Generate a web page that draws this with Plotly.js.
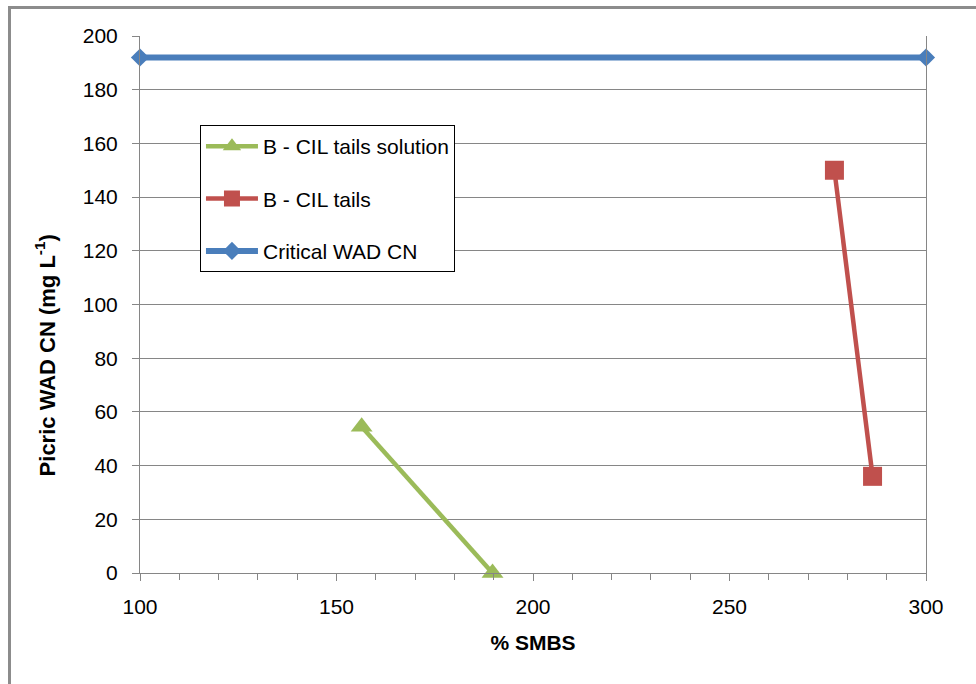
<!DOCTYPE html>
<html>
<head>
<meta charset="utf-8">
<script src="https://cdn.plot.ly/plotly-3.0.1.min.js"></script>
<style>
  html, body { margin: 0; padding: 0; background: #fff; }
  #wrap { position: relative; width: 976px; height: 684px; }
  #chart { width: 976px; height: 684px; }
  #frame { position: absolute; left: 8px; top: 6px; width: 980px; height: 700px;
           border-left: 3px solid #8c8c8c; border-top: 3px solid #8c8c8c; pointer-events: none; }
</style>
</head>
<body>
<div id="wrap">
  <div id="chart"></div>
  <div id="frame"></div>
</div>
<script>
// Data
const seriesNames = ["B - CIL tails solution", "B - CIL tails", "Critical WAD CN"];
const solutionX = [156.4, 189.7];
const solutionY = [54.5, 0];
const tailsX = [276.7, 286.4];
const tailsY = [150, 36];
const criticalX = [100, 300];
const criticalY = [192, 192];
const xTickVals = [100, 150, 200, 250, 300];
const xTickText = ["100", "150", "200", "250", "300"];

const FONT = "Liberation Sans, Arial, sans-serif";

const traces = [
  {
    x: solutionX, y: solutionY, name: seriesNames[0], type: "scatter", mode: "lines+markers",
    line: { color: "#9bbb59", width: 4.5 },
    marker: { symbol: "triangle-up", size: 19, color: "#9bbb59" },
    cliponaxis: false, legendgroup: "a"
  },
  {
    x: tailsX, y: tailsY, name: seriesNames[1], type: "scatter", mode: "lines+markers",
    line: { color: "#c0504d", width: 4.5 },
    marker: { symbol: "square", size: 19, color: "#c0504d" },
    cliponaxis: false, legendgroup: "b"
  },
  {
    x: criticalX, y: criticalY, name: seriesNames[2], type: "scatter", mode: "lines+markers",
    line: { color: "#4a7ebb", width: 6 },
    marker: { symbol: "diamond", size: 14, color: "#4a7ebb" },
    cliponaxis: false, legendgroup: "c"
  }
];

const layout = {
  width: 976, height: 684,
  margin: { l: 140, r: 50, t: 36, b: 111 },
  paper_bgcolor: "#ffffff", plot_bgcolor: "#ffffff",
  font: { family: FONT, size: 21, color: "#000" },
  showlegend: true,
  legend: {
    x: 0.0763, y: 0.834, xanchor: "left", yanchor: "top",
    bgcolor: "#ffffff", bordercolor: "#000000", borderwidth: 1,
    font: { family: FONT, size: 21, color: "#000" },
    tracegroupgap: 22, traceorder: "grouped", itemwidth: 52
  },
  xaxis: {
    range: [100, 300], tickmode: "array", tickvals: xTickVals, ticktext: xTickText,
    showgrid: false, zeroline: false,
    showline: true, linecolor: "#868686", linewidth: 1, mirror: false,
    ticks: "outside", ticklen: 7, tickcolor: "#868686", tickwidth: 1,
    ticklabelstandoff: 8,
    minor: { dtick: 10, tick0: 100, ticks: "outside", ticklen: 6, tickcolor: "#868686", showgrid: false },
    tickfont: { family: FONT, size: 21, color: "#000" },
    title: { text: "% SMBS", font: { family: FONT, size: 21, color: "#000", weight: "bold" }, standoff: 18 }
  },
  yaxis: {
    range: [0, 200], dtick: 20, tick0: 0,
    showgrid: true, gridcolor: "#868686", gridwidth: 1, zeroline: false,
    showline: true, linecolor: "#868686", linewidth: 1, mirror: true,
    ticks: "outside", ticklen: 7, tickcolor: "#868686",
    ticklabelstandoff: 10,
    tickfont: { family: FONT, size: 21, color: "#000" }
  },
  annotations: [
    {
      text: "<b>Picric WAD CN (mg L<sup>-1</sup>)</b>",
      xref: "paper", yref: "paper", x: -0.121, y: 0.405,
      xanchor: "center", yanchor: "middle", textangle: -90, showarrow: false,
      font: { family: FONT, size: 22, color: "#000" }
    }
  ]
};

Plotly.newPlot("chart", traces, layout, { displayModeBar: false, staticPlot: true });
</script>
</body>
</html>
